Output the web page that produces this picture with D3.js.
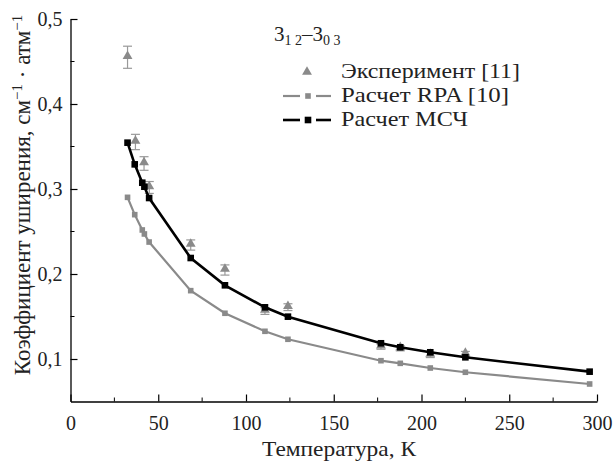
<!DOCTYPE html>
<html><head><meta charset="utf-8">
<script src="https://cdn.jsdelivr.net/npm/d3@7"></script>
<style>
body{margin:0;background:#fff;}
</style></head>
<body><svg id="c" width="613" height="461"></svg>
<script>
const temps = [32.5, 36.6, 40.9, 42.1, 44.8, 68.5, 88, 110.8, 123.9, 176.9, 187.9, 205, 225, 295.8];
const mcsValues = [0.3545, 0.329, 0.3074, 0.3027, 0.2894, 0.2188, 0.1867, 0.1608, 0.1498, 0.1185, 0.1138, 0.1079, 0.1020, 0.0851];
const rpaValues = [0.2902, 0.2698, 0.2518, 0.2471, 0.2376, 0.1804, 0.1538, 0.1326, 0.1232, 0.098, 0.0949, 0.0894, 0.0844, 0.0706];
const expTemps = [32.5, 37.0, 41.9, 44.9, 68.5, 88, 110.8, 123.9, 176.9, 187.9, 205, 225];
const expValues = [0.455, 0.3553, 0.330, 0.3018, 0.2341, 0.2047, 0.1565, 0.161, 0.1145, 0.1126, 0.1047, 0.1059];
const expErrors = [0.013, 0.009, 0.008, 0.007, 0.006, 0.006, 0.004, 0.004, 0.003, 0.003, 0.003, 0.003];
const xTicks = [0, 50, 100, 150, 200, 250, 300];
const xMinor = [25, 75, 125, 175, 225, 275];
const yTicks = [0.1, 0.2, 0.3, 0.4, 0.5];
const yMinor = [0.15, 0.25, 0.35, 0.45];
const legendLabels = ["Эксперимент [11]", "Расчет RPA [10]", "Расчет МСЧ"];

// pick an installed serif font
function pickFont() {
  const cands = ["Liberation Serif", "DejaVu Serif", "Noto Serif", "Tinos", "Times New Roman", "FreeSerif", "Nimbus Roman", "Nimbus Roman No9 L", "Times", "Georgia"];
  const ctx = document.createElement("canvas").getContext("2d");
  const s = "Эксперимент Расчет 0123456789 wmWM";
  const w = f => { ctx.font = "20px " + f; return ctx.measureText(s).width; };
  const base1 = w("monospace"), base2 = w("sans-serif");
  for (const c of cands) {
    if (w(`'${c}', monospace`) !== base1 || w(`'${c}', sans-serif`) !== base2) return `'${c}', serif`;
  }
  return "serif";
}
const FONT = pickFont();

const svg = d3.select("#c");
const x = d3.scaleLinear().domain([0, 300]).range([70.5, 597]);
const y = d3.scaleLinear().domain([0.05, 0.5]).range([401.5, 19]);
const fmt = v => d3.format(".1f")(v).replace(".", ",");

// axes
const xAxis = svg.append("g").attr("transform", `translate(0,${y(0.05)})`)
  .call(d3.axisBottom(x).tickValues(xTicks).tickSizeInner(-7).tickSizeOuter(0).tickPadding(14).tickFormat(d3.format("d")));
xAxis.append("g").selectAll("line").data(xMinor).join("line")
  .attr("x1", d => x(d)).attr("x2", d => x(d)).attr("y1", 0).attr("y2", -4).attr("stroke", "#000");
const yAxis = svg.append("g").attr("transform", `translate(${x(0)},0)`)
  .call(d3.axisLeft(y).tickValues(yTicks).tickSizeInner(-7).tickSizeOuter(0).tickPadding(8).tickFormat(fmt));
yAxis.append("g").selectAll("line").data(yMinor).join("line")
  .attr("y1", d => y(d)).attr("y2", d => y(d)).attr("x1", 0).attr("x2", 4).attr("stroke", "#000");
[xAxis, yAxis].forEach(a => {
  a.attr("font-family", null).attr("font-size", null);
  a.select(".domain").attr("stroke", "#000").attr("stroke-width", 1.3);
  a.selectAll(".tick line").attr("stroke", "#000").attr("stroke-width", 1.2);
  a.selectAll(".tick text").style("font-size", "20px").attr("fill", "#222");
});
yAxis.selectAll(".tick text").attr("dy", "0.32em");

// axis titles
svg.append("text").attr("x", 339).attr("y", 456).attr("text-anchor", "middle")
  .style("font-size", "19px").attr("class", "fit").attr("data-w", 154).text("Температура, К");
const yt = svg.append("text").attr("transform", `translate(30,195) rotate(-90)`)
  .attr("text-anchor", "middle").style("font-size", "20px").attr("id", "ytitle");
yt.append("tspan").text("Коэффициент уширения, см");
yt.append("tspan").attr("baseline-shift", "super").attr("class", "sup").text("−1");
yt.append("tspan").text(" · атм");
yt.append("tspan").attr("baseline-shift", "super").attr("class", "sup").text("−1");

const rpaData = temps.map((t, i) => [t, rpaValues[i]]);
const mcsData = temps.map((t, i) => [t, mcsValues[i]]);
const line = d3.line().x(d => x(d[0])).y(d => y(d[1]));

// experiment error bars + triangles
const tri = d3.symbol().type(d3.symbolTriangle).size(42);
const eg = svg.append("g");
expTemps.forEach((t, i) => {
  const cx = x(t), v = expValues[i], e = expErrors[i];
  const g = eg.append("g").attr("stroke", "#999").attr("stroke-width", 1.2);
  g.append("line").attr("x1", cx).attr("x2", cx).attr("y1", y(v + e)).attr("y2", y(v - e));
  g.append("line").attr("x1", cx - 4.5).attr("x2", cx + 4.5).attr("y1", y(v + e)).attr("y2", y(v + e));
  g.append("line").attr("x1", cx - 4.5).attr("x2", cx + 4.5).attr("y1", y(v - e)).attr("y2", y(v - e));
  eg.append("path").attr("d", tri).attr("transform", `translate(${cx},${y(v) - 1})`).attr("fill", "#8a8a8a");
});

// RPA line
svg.append("path").datum(rpaData).attr("d", line).attr("fill", "none").attr("stroke", "#8a8a8a").attr("stroke-width", 2.2);
svg.append("g").selectAll("rect").data(rpaData).join("rect")
  .attr("x", d => x(d[0]) - 2.8).attr("y", d => y(d[1]) - 2.8).attr("width", 5.6).attr("height", 5.6).attr("fill", "#8a8a8a");
// MCS line
svg.append("path").datum(mcsData).attr("d", line).attr("fill", "none").attr("stroke", "#000").attr("stroke-width", 2.6);
svg.append("g").selectAll("rect").data(mcsData).join("rect")
  .attr("x", d => x(d[0]) - 3.3).attr("y", d => y(d[1]) - 3.3).attr("width", 6.6).attr("height", 6.6).attr("fill", "#000");

// legend title
const lt = svg.append("text").attr("x", 274).attr("y", 41).style("font-size", "21px");
lt.append("tspan").text("3");
lt.append("tspan").attr("baseline-shift", "-25%").style("font-size", "14px").text("1 2");
lt.append("tspan").text("–3");
lt.append("tspan").attr("baseline-shift", "-25%").style("font-size", "14px").text("0 3");

// legend entries
const ly = [72, 96, 120];
const legendWidths = [179, 168, 127];
legendLabels.forEach((lab, i) => {
  svg.append("text").attr("x", 341).attr("y", ly[i] + 6).style("font-size", "20px")
    .attr("class", "fit").attr("data-w", legendWidths[i]).text(lab);
});
svg.append("path").attr("d", tri).attr("transform", `translate(307,${ly[0]})`).attr("fill", "#8a8a8a");
[["#8a8a8a", 2.2, 5.6], ["#000", 2.6, 6.6]].forEach((s, j) => {
  const yy = ly[j + 1];
  const g = svg.append("g").attr("stroke", s[0]).attr("stroke-width", s[1]);
  g.append("line").attr("x1", 283).attr("x2", 300).attr("y1", yy).attr("y2", yy);
  g.append("line").attr("x1", 316).attr("x2", 331).attr("y1", yy).attr("y2", yy);
  svg.append("rect").attr("x", 308 - s[2] / 2).attr("y", yy - s[2] / 2).attr("width", s[2]).attr("height", s[2]).attr("fill", s[0]);
});

svg.selectAll("text").style("font-family", FONT).attr("fill", "#222");
svg.selectAll(".sup").style("font-size", "13px");

// fit widths: scale font slightly then textLength for exact width
svg.selectAll("text.fit").each(function () {
  const t = d3.select(this), target = +t.attr("data-w");
  const base = parseFloat(t.style("font-size"));
  const w0 = this.getComputedTextLength();
  const fs = Math.max(18, Math.min(21, base * target / w0));
  t.style("font-size", fs + "px");
  t.attr("textLength", target).attr("lengthAdjust", "spacingAndGlyphs");
});
{
  const node = document.getElementById("ytitle");
  const w0 = node.getComputedTextLength();
  const fs = Math.min(23, 20 * 372 / w0);
  d3.select(node).style("font-size", fs + "px");
  d3.select(node).selectAll(".sup").style("font-size", fs * 0.65 + "px");
}
</script></body></html>
